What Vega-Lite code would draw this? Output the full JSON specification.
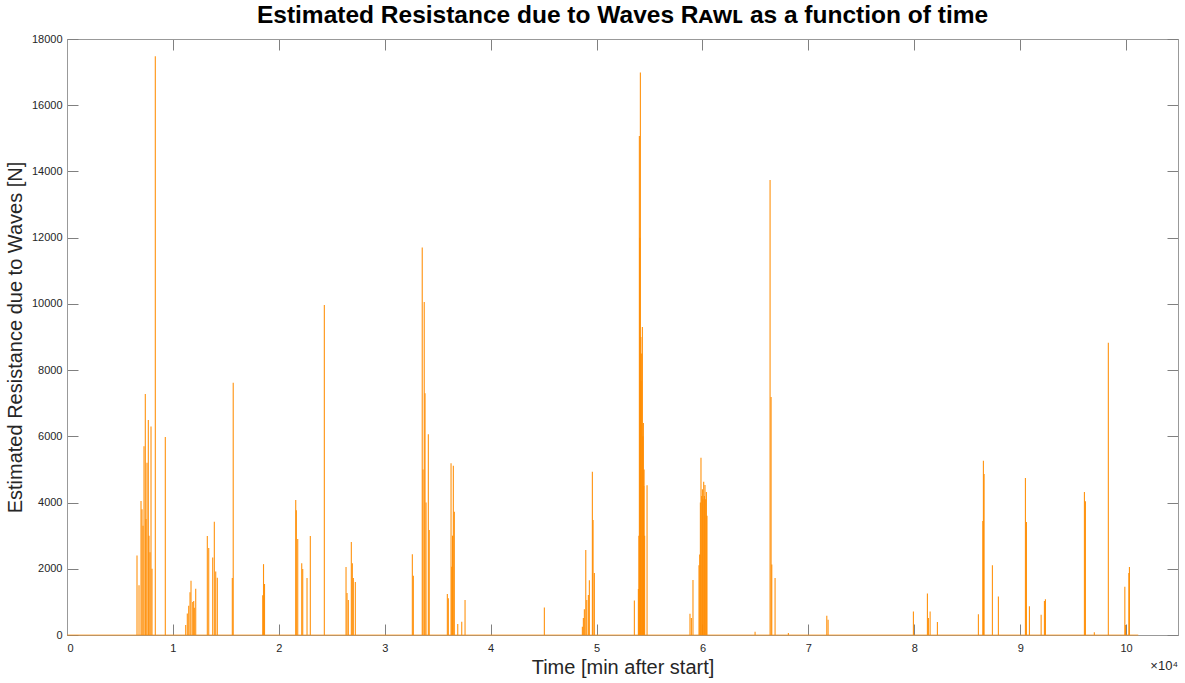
{
  "$schema": "https://vega.github.io/schema/vega-lite/v6.json",
  "autosize": "none",
  "width": 1111,
  "height": 596,
  "padding": {"left": 67, "top": 39, "right": 7, "bottom": 48},
  "background": "white",
  "config": {
    "font": "Liberation Sans",
    "view": {"stroke": "#999999"},
    "axis": {
      "grid": false,
      "domainColor": "#999999",
      "tickColor": "#808080",
      "labelColor": "#262626",
      "labelFont": "Liberation Sans",
      "labelFontSize": 11,
      "titleFont": "Liberation Sans",
      "titleFontSize": 20,
      "titleFontWeight": "normal",
      "titleColor": "#262626"
    }
  },
  "title": {
    "text": "Estimated Resistance due to Waves Rᴀᴡʟ as a function of time",
    "font": "Liberation Sans",
    "fontSize": 24.5,
    "fontWeight": "bold",
    "color": "#000000",
    "anchor": "middle",
    "offset": 5
  },
  "datasets": {
    "spikes": [
      {"time": 6610, "resistance": 2400},
      {"time": 6799, "resistance": 1500},
      {"time": 6988, "resistance": 4050},
      {"time": 7082, "resistance": 3800},
      {"time": 7177, "resistance": 3300},
      {"time": 7271, "resistance": 5700},
      {"time": 7394, "resistance": 7280},
      {"time": 7460, "resistance": 3500},
      {"time": 7554, "resistance": 5200},
      {"time": 7677, "resistance": 6490},
      {"time": 7743, "resistance": 3000},
      {"time": 7838, "resistance": 2500},
      {"time": 7932, "resistance": 6300},
      {"time": 8026, "resistance": 2000},
      {"time": 8338, "resistance": 17480},
      {"time": 9282, "resistance": 5980},
      {"time": 11208, "resistance": 300},
      {"time": 11360, "resistance": 650},
      {"time": 11492, "resistance": 880},
      {"time": 11615, "resistance": 1290},
      {"time": 11709, "resistance": 1640},
      {"time": 11870, "resistance": 1000},
      {"time": 11964, "resistance": 1030},
      {"time": 12021, "resistance": 820},
      {"time": 12153, "resistance": 1400},
      {"time": 13249, "resistance": 2990},
      {"time": 13381, "resistance": 2630},
      {"time": 13758, "resistance": 2340},
      {"time": 13910, "resistance": 3420},
      {"time": 14042, "resistance": 1920},
      {"time": 14193, "resistance": 1730},
      {"time": 15609, "resistance": 1720},
      {"time": 15694, "resistance": 7620},
      {"time": 18480, "resistance": 1200},
      {"time": 18555, "resistance": 2140},
      {"time": 18650, "resistance": 1540},
      {"time": 21596, "resistance": 4080},
      {"time": 21653, "resistance": 3770},
      {"time": 21785, "resistance": 2900},
      {"time": 22163, "resistance": 2170},
      {"time": 22257, "resistance": 1990},
      {"time": 22663, "resistance": 1720},
      {"time": 22974, "resistance": 2990},
      {"time": 24297, "resistance": 9970},
      {"time": 26346, "resistance": 2050},
      {"time": 26440, "resistance": 1270},
      {"time": 26563, "resistance": 1060},
      {"time": 26846, "resistance": 2810},
      {"time": 26941, "resistance": 2170},
      {"time": 27036, "resistance": 1720},
      {"time": 27224, "resistance": 1600},
      {"time": 32607, "resistance": 2440},
      {"time": 32701, "resistance": 1790},
      {"time": 33541, "resistance": 11700},
      {"time": 33617, "resistance": 5000},
      {"time": 33730, "resistance": 10060},
      {"time": 33805, "resistance": 7300},
      {"time": 33900, "resistance": 4000},
      {"time": 34117, "resistance": 6060},
      {"time": 34202, "resistance": 3170},
      {"time": 35912, "resistance": 1240},
      {"time": 36006, "resistance": 1110},
      {"time": 36261, "resistance": 5190},
      {"time": 36327, "resistance": 2060},
      {"time": 36402, "resistance": 3000},
      {"time": 36478, "resistance": 5110},
      {"time": 36572, "resistance": 3720},
      {"time": 36894, "resistance": 330},
      {"time": 37271, "resistance": 400},
      {"time": 37583, "resistance": 1060},
      {"time": 45072, "resistance": 830},
      {"time": 48661, "resistance": 250},
      {"time": 48755, "resistance": 510},
      {"time": 48850, "resistance": 780},
      {"time": 48982, "resistance": 2570},
      {"time": 49076, "resistance": 1060},
      {"time": 49227, "resistance": 1210},
      {"time": 49321, "resistance": 1650},
      {"time": 49605, "resistance": 4930},
      {"time": 49671, "resistance": 3470},
      {"time": 49794, "resistance": 1870},
      {"time": 53571, "resistance": 1040},
      {"time": 53949, "resistance": 1390},
      {"time": 53996, "resistance": 3000},
      {"time": 54043, "resistance": 15070},
      {"time": 54090, "resistance": 12000},
      {"time": 54138, "resistance": 16990},
      {"time": 54185, "resistance": 9000},
      {"time": 54204, "resistance": 7680},
      {"time": 54260, "resistance": 8500},
      {"time": 54327, "resistance": 9300},
      {"time": 54374, "resistance": 6000},
      {"time": 54421, "resistance": 6400},
      {"time": 54460, "resistance": 4500},
      {"time": 54487, "resistance": 5000},
      {"time": 54540, "resistance": 3000},
      {"time": 54769, "resistance": 4520},
      {"time": 58822, "resistance": 640},
      {"time": 58954, "resistance": 510},
      {"time": 59105, "resistance": 1660},
      {"time": 59672, "resistance": 2110},
      {"time": 59738, "resistance": 2430},
      {"time": 59804, "resistance": 4000},
      {"time": 59860, "resistance": 5350},
      {"time": 59927, "resistance": 4200},
      {"time": 59993, "resistance": 4400},
      {"time": 60049, "resistance": 4100},
      {"time": 60116, "resistance": 4630},
      {"time": 60182, "resistance": 4200},
      {"time": 60238, "resistance": 4530},
      {"time": 60304, "resistance": 4100},
      {"time": 60370, "resistance": 4320},
      {"time": 60427, "resistance": 3600},
      {"time": 64968, "resistance": 100},
      {"time": 66384, "resistance": 13740},
      {"time": 66479, "resistance": 7190},
      {"time": 66545, "resistance": 2130},
      {"time": 66856, "resistance": 1720},
      {"time": 68112, "resistance": 60},
      {"time": 71739, "resistance": 580},
      {"time": 71862, "resistance": 460},
      {"time": 79918, "resistance": 710},
      {"time": 81240, "resistance": 1250},
      {"time": 81334, "resistance": 510},
      {"time": 81495, "resistance": 710},
      {"time": 82184, "resistance": 390},
      {"time": 86054, "resistance": 630},
      {"time": 86470, "resistance": 3440},
      {"time": 86526, "resistance": 5260},
      {"time": 86592, "resistance": 4860},
      {"time": 87376, "resistance": 2110},
      {"time": 87942, "resistance": 1160},
      {"time": 90494, "resistance": 4740},
      {"time": 90589, "resistance": 3410},
      {"time": 90872, "resistance": 870},
      {"time": 91977, "resistance": 610},
      {"time": 92288, "resistance": 1030},
      {"time": 92383, "resistance": 1080},
      {"time": 96064, "resistance": 4320},
      {"time": 96158, "resistance": 4040},
      {"time": 97000, "resistance": 80},
      {"time": 98322, "resistance": 8830},
      {"time": 99880, "resistance": 1460},
      {"time": 99937, "resistance": 300},
      {"time": 100258, "resistance": 1870},
      {"time": 100315, "resistance": 2050}
    ],
    "baseline": [
      {"start": 0, "end": 101150, "level": 0}
    ],
    "note": [
      {"label": "×10⁴", "time": 104900, "resistance": 0}
    ]
  },
  "layer": [
    {
      "data": {"name": "spikes"},
      "mark": {"type": "rule", "color": "#ff8c00", "strokeWidth": 1.1, "opacity": 0.95},
      "encoding": {
        "x": {
          "field": "time", "type": "quantitative",
          "scale": {"domain": [0, 104900], "nice": false, "zero": false},
          "axis": {
            "orient": "bottom",
            "title": "Time [min after start]",
            "values": [0, 10000, 20000, 30000, 40000, 50000, 60000, 70000, 80000, 90000, 100000],
            "labelExpr": "datum.value / 10000",
            "tickSize": -11,
            "labelPadding": 18,
            "titlePadding": 4
          }
        },
        "y": {
          "field": "resistance", "type": "quantitative",
          "scale": {"domain": [0, 18000], "nice": false},
          "axis": {
            "orient": "left",
            "title": "Estimated Resistance due to Waves [N]",
            "values": [0, 2000, 4000, 6000, 8000, 10000, 12000, 14000, 16000, 18000],
            "format": "d",
            "tickSize": -11,
            "labelPadding": 16,
            "titlePadding": 6
          }
        },
        "y2": {"datum": 0}
      }
    },
    {
      "data": {"name": "baseline"},
      "mark": {"type": "rule", "color": "#ff8c00", "strokeWidth": 1.2, "opacity": 0.7},
      "encoding": {
        "x": {
          "field": "start", "type": "quantitative",
          "scale": {"domain": [0, 104900], "nice": false, "zero": false},
          "axis": {
            "orient": "top",
            "title": null,
            "labels": false,
            "values": [0, 10000, 20000, 30000, 40000, 50000, 60000, 70000, 80000, 90000, 100000],
            "tickSize": -11
          }
        },
        "x2": {"field": "end"},
        "y": {
          "field": "level", "type": "quantitative",
          "scale": {"domain": [0, 18000], "nice": false},
          "axis": {
            "orient": "right",
            "title": null,
            "labels": false,
            "values": [0, 2000, 4000, 6000, 8000, 10000, 12000, 14000, 16000, 18000],
            "tickSize": -11
          }
        }
      }
    },
    {
      "data": {"name": "note"},
      "mark": {"type": "text", "align": "right", "baseline": "middle", "dy": 31, "fontSize": 13, "color": "#262626", "font": "Liberation Sans"},
      "encoding": {
        "x": {"field": "time", "type": "quantitative", "scale": {"domain": [0, 104900], "nice": false, "zero": false}, "axis": null},
        "y": {"field": "resistance", "type": "quantitative", "scale": {"domain": [0, 18000], "nice": false}, "axis": null},
        "text": {"field": "label"}
      }
    }
  ],
  "resolve": {"axis": {"x": "independent", "y": "independent"}}
}
